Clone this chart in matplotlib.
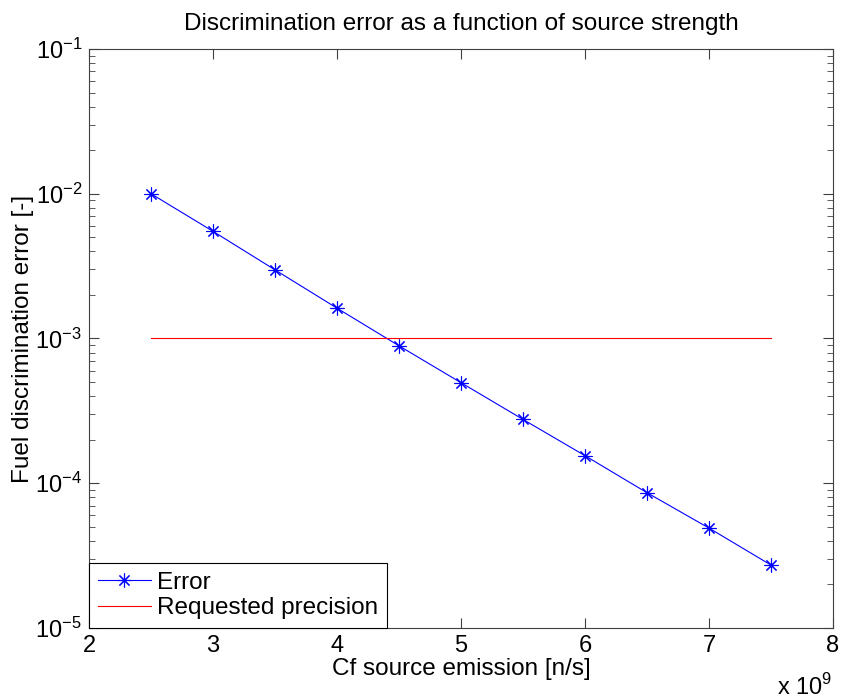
import numpy as np
import matplotlib
matplotlib.use("Agg")
import matplotlib.pyplot as plt
from matplotlib.ticker import FuncFormatter, LogLocator

plt.rcParams['font.family'] = ['Liberation Sans', 'DejaVu Sans']
plt.rcParams['mathtext.fontset'] = 'custom'
plt.rcParams['mathtext.rm'] = 'Liberation Sans'

# source strength [n/s] and discrimination error
emission = [2.5e9, 3.0e9, 3.5e9, 4.0e9, 4.5e9, 5.0e9, 5.5e9, 6.0e9, 6.5e9, 7.0e9, 7.5e9]
error = [1.0e-2, 5.5e-3, 2.98e-3, 1.62e-3, 8.9e-4, 4.95e-4, 2.76e-4, 1.55e-4, 8.6e-5, 4.9e-5, 2.72e-5]
precision_x = [2.5e9, 7.5e9]
precision = [1e-3, 1e-3]

fig = plt.figure(figsize=(8.42, 7.0), dpi=100)
ax = fig.add_axes([0.1057, 0.1029, 0.8836, 0.8271])

ax.semilogy(emission, error, color='#0000ff', marker=(8, 2, 0), markersize=10,
            markeredgewidth=0.8, linewidth=0.8, label='Error')
ax.semilogy(precision_x, precision, color='#ff0000', linewidth=0.8,
            label='Requested precision')

ax.set_xlim(2e9, 8e9)
ax.set_ylim(1e-5, 1e-1)
ax.xaxis.set_major_formatter(FuncFormatter(lambda v, p: '%g' % (v / 1e9)))
ax.yaxis.set_major_locator(LogLocator(base=10, numticks=10))
ax.yaxis.set_minor_locator(LogLocator(base=10, subs=np.arange(2, 10), numticks=10))

grey = '#404040'
for s in ax.spines.values():
    s.set_color(grey)
    s.set_linewidth(0.8)
ax.tick_params(which='both', direction='in', top=True, right=True, colors=grey,
               labelcolor='black', labelsize=17)
ax.tick_params(which='major', length=7, width=0.8, pad=5)
ax.tick_params(which='minor', length=4, width=0.6)

ax.set_title('Discrimination error as a function of source strength', fontsize=17.5, pad=14)
ax.set_xlabel('Cf source emission [n/s]', fontsize=17.5, labelpad=1)
ax.set_ylabel('Fuel discrimination error [-]', fontsize=17.5, labelpad=1)
fig.text(0.988, 0.0, r'x 10$^{9}$', fontsize=17, ha='right', va='bottom')

leg = ax.legend(loc='lower left', fontsize=17.5, fancybox=False, framealpha=1,
                edgecolor='black', borderaxespad=0.0, handlelength=2.2,
                borderpad=0.35, labelspacing=0.15, handletextpad=0.25)
leg.get_frame().set_linewidth(0.8)

fig.savefig('out.png', dpi=100)
